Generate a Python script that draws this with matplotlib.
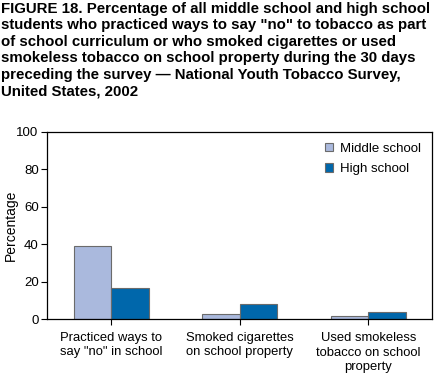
import numpy as np
import matplotlib
matplotlib.use("Agg")
import matplotlib.pyplot as plt

plt.rcParams["font.family"] = ["Liberation Sans", "DejaVu Sans"]

categories = ['Practiced ways to\nsay "no" in school',
              "Smoked cigarettes\non school property",
              "Used smokeless\ntobacco on school\nproperty"]
middle_school = [39.1, 2.6, 2.0]
high_school = [16.5, 8.1, 3.7]
series_names = ["Middle school", "High school"]
yticks = [0, 20, 40, 60, 80, 100]

title_lines = [
    "FIGURE 18. Percentage of all middle school and high school",
    'students who practiced ways to say "no" to tobacco as part',
    "of school curriculum or who smoked cigarettes or used",
    "smokeless tobacco on school property during the 30 days",
    "preceding the survey \u2014 National Youth Tobacco Survey,",
    "United States, 2002",
]

fig = plt.figure(figsize=(4.39, 3.81), dpi=100)
ax = fig.add_axes([47 / 439, 1 - 319.3 / 381, 385.5 / 439, 187.6 / 381])

x = np.arange(len(categories))
w = 0.29
ax.bar(x - w / 2, middle_school, w, color="#aab9dd", edgecolor="#6b6b6b",
       linewidth=0.8, label=series_names[0])
ax.bar(x + w / 2, high_school, w, color="#0067ab", edgecolor="#6b6b6b",
       linewidth=0.8, label=series_names[1])

ax.set_xlim(-0.5, 2.5)
ax.set_ylim(0, 100)
ax.set_yticks(yticks)
ax.set_xticks(x)
ax.set_xticklabels(categories, fontsize=9.4, linespacing=1.3)
ax.tick_params(axis="y", labelsize=9.5, length=4, width=0.8, pad=2)
ax.tick_params(axis="x", length=4, width=0.8, pad=5)
ax.set_ylabel("Percentage", fontsize=10)
ax.yaxis.set_label_coords(-0.075, 0.5)
for s in ax.spines.values():
    s.set_linewidth(0.9)

ax.legend(loc="upper right", bbox_to_anchor=(1.0, 1.005), frameon=False,
          fontsize=9.5, handlelength=0.6, handleheight=0.6,
          handletextpad=0.5, labelspacing=0.65)

y = 1 - 2 / 381
for line in title_lines:
    fig.text(0.003, y, line, fontsize=10.8, fontweight="bold", va="top", ha="left")
    y -= 16.4 / 381

fig.savefig("out.png", dpi=100)
